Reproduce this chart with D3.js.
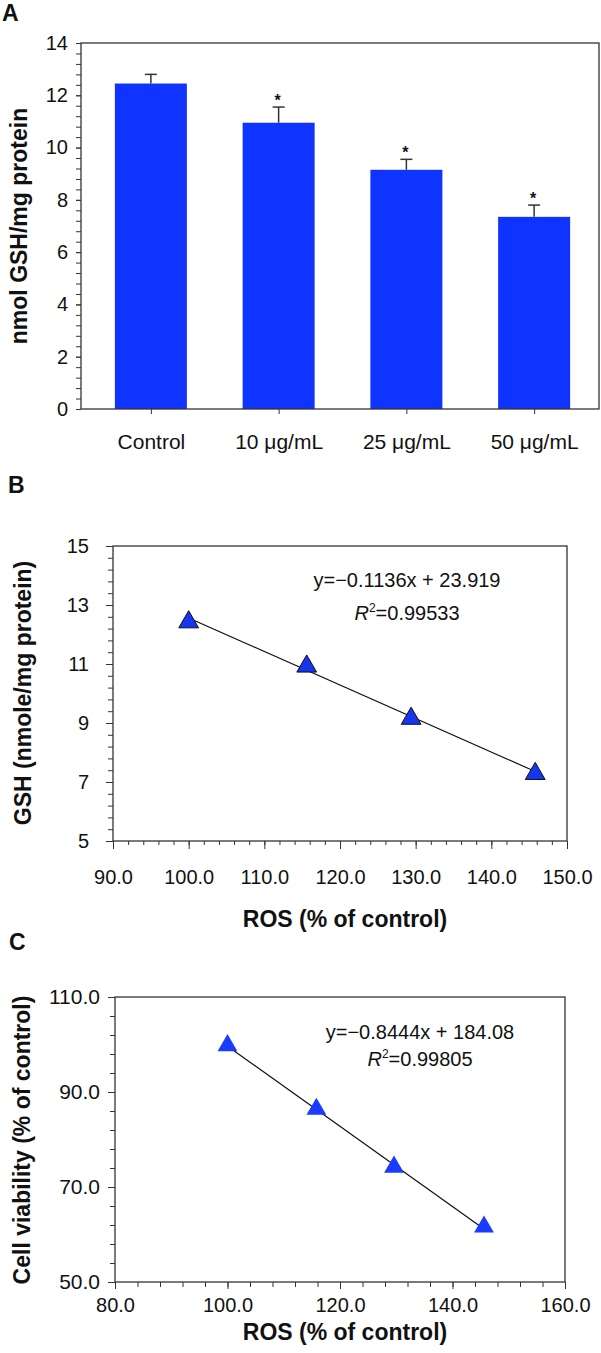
<!DOCTYPE html>
<html><head><meta charset="utf-8">
<script src="https://cdn.jsdelivr.net/npm/d3@7"></script>
<style>
body{margin:0;background:#fff}
text{font-family:"Liberation Sans",Arial,sans-serif}
</style>
</head><body>
<svg id="chart" width="601" height="1353"></svg>
<script>
// ---------- data ----------
const categories = ["Control", "10 \u03bcg/mL", "25 \u03bcg/mL", "50 \u03bcg/mL"];
const gshMean = [12.45, 10.95, 9.15, 7.35];
const gshErr = [0.35, 0.6, 0.4, 0.45];
const significant = [false, true, true, true];
const aYTicks = [0, 2, 4, 6, 8, 10, 12, 14];

const rosValues = [100, 115.6, 129.4, 145.8];
const gshValues = [12.42, 10.92, 9.15, 7.28];
const bXTicks = [90, 100, 110, 120, 130, 140, 150];
const bYTicks = [5, 7, 9, 11, 13, 15];
const bSlope = -0.1136, bIntercept = 23.919;
const bEquation = "y=\u22120.1136x + 23.919";
const bR2 = "=0.99533";

const rosValuesC = [100, 115.8, 129.6, 145.6];
const viabilityValues = [99.8, 86.4, 74.2, 61.6];
const cXTicks = [80, 100, 120, 140, 160];
const cYTicks = [50, 70, 90, 110];
const cSlope = -0.8444, cIntercept = 184.08;
const cEquation = "y=\u22120.8444x + 184.08";
const cR2 = "=0.99805";

// ---------- setup ----------
const svg = d3.select("#chart");
const FONT = '"Liberation Sans", Arial, sans-serif';
const AX = "#333";
const BLUE = "#1034ff";

function styleAxis(g, fs) {
  g.select(".domain").remove();
  g.selectAll("line").attr("stroke", AX).attr("stroke-width", 1);
  g.selectAll("text").attr("font-family", FONT).attr("font-size", fs).attr("fill", "#111");
}
function frame(l, t, r, b) {
  svg.append("rect").attr("x", l).attr("y", t).attr("width", r - l).attr("height", b - t)
    .attr("fill", "none").attr("stroke", AX).attr("stroke-width", 1.3);
}
function panelLetter(txt, x, y) {
  svg.append("text").attr("x", x).attr("y", y).attr("font-size", 23).attr("font-weight", "bold")
    .attr("font-family", FONT).attr("fill", "#111").text(txt);
}
function yTitle(txt, x, y) {
  svg.append("text").attr("transform", `translate(${x},${y}) rotate(-90)`).attr("text-anchor", "middle")
    .attr("font-size", 23).attr("font-weight", "bold").attr("font-family", FONT).attr("fill", "#111").text(txt);
}
function xTitle(txt, x, y) {
  svg.append("text").attr("x", x).attr("y", y).attr("text-anchor", "middle")
    .attr("font-size", 23).attr("font-weight", "bold").attr("font-family", FONT).attr("fill", "#111").text(txt);
}
function equation(eq, r2, x, y, gap) {
  svg.append("text").attr("x", x).attr("y", y).attr("text-anchor", "middle").attr("font-size", 20)
    .attr("font-family", FONT).attr("fill", "#111").text(eq);
  const t = svg.append("text").attr("x", x).attr("y", y + gap).attr("text-anchor", "middle").attr("font-size", 20)
    .attr("font-family", FONT).attr("fill", "#111");
  t.append("tspan").attr("font-style", "italic").text("R");
  t.append("tspan").attr("font-size", 12).attr("dy", -8).text("2");
  t.append("tspan").attr("dy", 8).text(r2);
}

// ---------- Panel A ----------
const A = {l: 81, t: 43, r: 599, b: 409};
const yA = d3.scaleLinear().domain([0, 14]).range([A.b, A.t]);
const xA = d3.scalePoint().domain(categories).range([87, 598]).padding(0.5);
const barW = 72;

panelLetter("A", 2, 21);
svg.append("g").attr("transform", `translate(${A.l},0)`)
  .call(d3.axisLeft(yA).tickValues(d3.range(0, 14.01, 0.4)).tickSize(5).tickFormat(""))
  .call(g => styleAxis(g, 20));
svg.append("g").attr("transform", `translate(${A.l},0)`)
  .call(d3.axisLeft(yA).tickValues(aYTicks).tickSize(5).tickPadding(8).tickFormat(d3.format("d")))
  .call(g => styleAxis(g, 20));
svg.append("g").attr("transform", `translate(0,${A.b})`)
  .call(d3.axisBottom(xA).tickSize(5).tickPadding(20))
  .call(g => styleAxis(g, 21));

svg.append("g").selectAll("rect").data(categories).join("rect")
  .attr("x", d => xA(d) - barW / 2).attr("width", barW)
  .attr("y", (d, i) => yA(gshMean[i])).attr("height", (d, i) => yA(0) - yA(gshMean[i]))
  .attr("fill", BLUE);
const eb = svg.append("g").attr("stroke", AX).attr("stroke-width", 1.5);
categories.forEach((c, i) => {
  const cx = xA(c);
  const top = yA(gshMean[i] + gshErr[i]);
  eb.append("line").attr("x1", cx).attr("x2", cx).attr("y1", yA(gshMean[i])).attr("y2", top);
  eb.append("line").attr("x1", cx - 6).attr("x2", cx + 6).attr("y1", top).attr("y2", top);
  if (significant[i]) {
    svg.append("text").attr("x", cx - 1).attr("y", top - 1).attr("text-anchor", "middle")
      .attr("font-size", 16).attr("font-weight", "bold").attr("font-family", FONT).attr("fill", "#111").text("*");
  }
});
frame(A.l, A.t, A.r, A.b);
yTitle("nmol GSH/mg protein", 27, 226);

// ---------- Panel B ----------
const B = {l: 113, t: 546, r: 567, b: 841};
const xB = d3.scaleLinear().domain([90, 150]).range([B.l, B.r]);
const yB = d3.scaleLinear().domain([5, 15]).range([B.b, B.t]);
panelLetter("B", 8, 493);
svg.append("g").attr("transform", `translate(${B.l},0)`)
  .call(d3.axisLeft(yB).tickValues(d3.range(5, 15.01, 0.4)).tickSize(5).tickFormat(""))
  .call(g => styleAxis(g, 20));
svg.append("g").attr("transform", `translate(${B.l},0)`)
  .call(d3.axisLeft(yB).tickValues(bYTicks).tickSize(7).tickPadding(17).tickFormat(d3.format("d")))
  .call(g => styleAxis(g, 20));
svg.append("g").attr("transform", `translate(0,${B.b})`)
  .call(d3.axisBottom(xB).tickValues(d3.range(90, 150.01, 2)).tickSize(4).tickFormat(""))
  .call(g => styleAxis(g, 20));
svg.append("g").attr("transform", `translate(0,${B.b})`)
  .call(d3.axisBottom(xB).tickValues(bXTicks).tickSize(8).tickPadding(21).tickFormat(d3.format(".1f")))
  .call(g => styleAxis(g, 20));
frame(B.l, B.t, B.r, B.b);
const bx0 = d3.min(rosValues), bx1 = d3.max(rosValues);
svg.append("line").attr("x1", xB(bx0)).attr("y1", yB(bSlope * bx0 + bIntercept))
  .attr("x2", xB(bx1)).attr("y2", yB(bSlope * bx1 + bIntercept)).attr("stroke", "#111").attr("stroke-width", 1.2);
svg.append("g").selectAll("path").data(rosValues).join("path")
  .attr("d", d3.symbol(d3.symbolTriangle, 170))
  .attr("transform", (d, i) => `translate(${xB(d)},${yB(gshValues[i])})`)
  .attr("fill", "#1536ee").attr("stroke", "#111").attr("stroke-width", 1);
equation(bEquation, bR2, 407, 587, 33);
yTitle("GSH (nmole/mg protein)", 31, 693);
xTitle("ROS (% of control)", 345, 927);

// ---------- Panel C ----------
const C = {l: 115, t: 997, r: 565, b: 1282};
const xC = d3.scaleLinear().domain([80, 160]).range([C.l, C.r]);
const yC = d3.scaleLinear().domain([50, 110]).range([C.b, C.t]);
panelLetter("C", 9, 950);
svg.append("g").attr("transform", `translate(${C.l},0)`)
  .call(d3.axisLeft(yC).tickValues(d3.range(50, 110.01, 4)).tickSize(5).tickFormat(""))
  .call(g => styleAxis(g, 21));
svg.append("g").attr("transform", `translate(${C.l},0)`)
  .call(d3.axisLeft(yC).tickValues(cYTicks).tickSize(7).tickPadding(8).tickFormat(d3.format(".1f")))
  .call(g => styleAxis(g, 21));
svg.append("g").attr("transform", `translate(0,${C.b})`)
  .call(d3.axisBottom(xC).tickValues(d3.range(80, 160.01, 4)).tickSize(5).tickFormat(""))
  .call(g => styleAxis(g, 20));
svg.append("g").attr("transform", `translate(0,${C.b})`)
  .call(d3.axisBottom(xC).tickValues(cXTicks).tickSize(7).tickPadding(9).tickFormat(d3.format(".1f")))
  .call(g => styleAxis(g, 20));
frame(C.l, C.t, C.r, C.b);
const cx0 = d3.min(rosValuesC), cx1 = d3.max(rosValuesC);
svg.append("line").attr("x1", xC(cx0)).attr("y1", yC(cSlope * cx0 + cIntercept))
  .attr("x2", xC(cx1)).attr("y2", yC(cSlope * cx1 + cIntercept)).attr("stroke", "#111").attr("stroke-width", 1.2);
svg.append("g").selectAll("path").data(rosValuesC).join("path")
  .attr("d", d3.symbol(d3.symbolTriangle, 170))
  .attr("transform", (d, i) => `translate(${xC(d)},${yC(viabilityValues[i])})`)
  .attr("fill", "#1a3cff");
equation(cEquation, cR2, 420, 1039, 27);
yTitle("Cell viability (% of control)", 30, 1140);
xTitle("ROS (% of control)", 345, 1340);
</script>
</body></html>
